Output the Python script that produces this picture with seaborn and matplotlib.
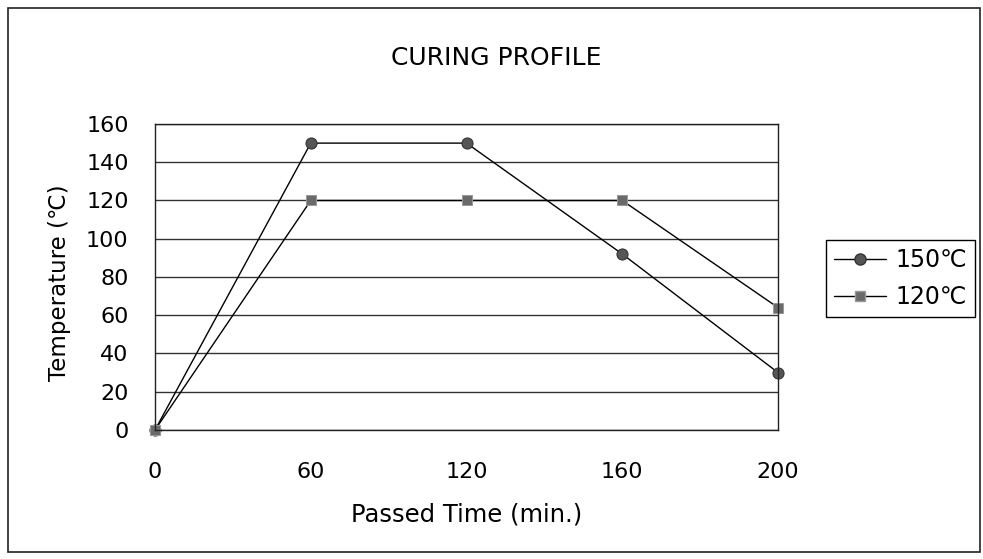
import pandas as pd
import seaborn as sns
import matplotlib.pyplot as plt
from matplotlib.patches import Rectangle

# Data
times = ['0', '60', '120', '160', '200']
temp_150 = [0, 150, 150, 92, 30]
temp_120 = [0, 120, 120, 120, 64]
series_names = ['150\u2103', '120\u2103']

df = pd.DataFrame({
    'time': times * 2,
    'temp': temp_150 + temp_120,
    'series': [series_names[0]] * len(times) + [series_names[1]] * len(times),
})

sns.set_style('white')
plt.rcParams['font.family'] = ['DejaVu Sans']
plt.rcParams['text.color'] = 'black'
plt.rcParams['xtick.color'] = 'black'
plt.rcParams['ytick.color'] = 'black'
plt.rcParams['axes.labelcolor'] = 'black'

fig = plt.figure(figsize=(9.83, 5.59), dpi=100)
ax = fig.add_axes([0.1577, 0.2308, 0.6338, 0.5474])

sns.lineplot(data=df, x='time', y='temp', hue='series', style='series',
             markers={series_names[0]: 'o', series_names[1]: 's'},
             dashes=False, palette={series_names[0]: 'black', series_names[1]: 'black'},
             linewidth=1.0, ax=ax, sort=False, legend=False)

# marker colours
lines = ax.get_lines()
lines[0].set_markerfacecolor('#555555')
lines[0].set_markeredgecolor('#333333')
lines[0].set_markersize(8)
lines[1].set_markerfacecolor('#6a6a6a')
lines[1].set_markeredgecolor('#999999')
lines[1].set_markersize(7)
for ln in lines:
    ln.set_clip_on(False)

ax.set_xlim(0, 4)
ax.set_ylim(0, 160)
ax.set_yticks(range(0, 161, 20))
ax.grid(axis='y', color='#333333', linewidth=1.0)
ax.set_axisbelow(True)
for s in ax.spines.values():
    s.set_visible(True)
    s.set_color('#222222')
    s.set_linewidth(1.0)

ax.tick_params(axis='x', direction='in', length=8, width=1, color='#222222',
               labelsize=16, pad=23)
ax.tick_params(axis='y', length=0, labelsize=16, pad=19)

ax.set_xlabel('Passed Time (min.)', fontsize=17.5, labelpad=15)
ax.set_ylabel('Temperature (\u2103)', fontsize=16.5)
ax.yaxis.set_label_coords(-0.135, 0.48)
fig.text(0.505, 0.897, 'CURING PROFILE', ha='center', va='center', fontsize=18)

# legend
h150 = plt.Line2D([], [], color='black', linewidth=1.0, marker='o', markersize=8,
                  markerfacecolor='#555555', markeredgecolor='#333333')
h120 = plt.Line2D([], [], color='black', linewidth=1.0, marker='s', markersize=7,
                  markerfacecolor='#6a6a6a', markeredgecolor='#999999')
leg = fig.legend([h150, h120], series_names, loc='upper left',
                 bbox_to_anchor=(0.840, 0.571), fontsize=17, frameon=True,
                 fancybox=False, edgecolor='black', framealpha=1,
                 handlelength=2.2, handletextpad=0.4, borderpad=0.35,
                 labelspacing=0.55, borderaxespad=0)
leg.get_frame().set_linewidth(1.0)

# outer frame of the chart
fig.patches.append(Rectangle((0.008, 0.012), 0.989, 0.974, transform=fig.transFigure,
                             fill=False, edgecolor='#222222', linewidth=1.2))

plt.savefig('out.png', dpi=100)
